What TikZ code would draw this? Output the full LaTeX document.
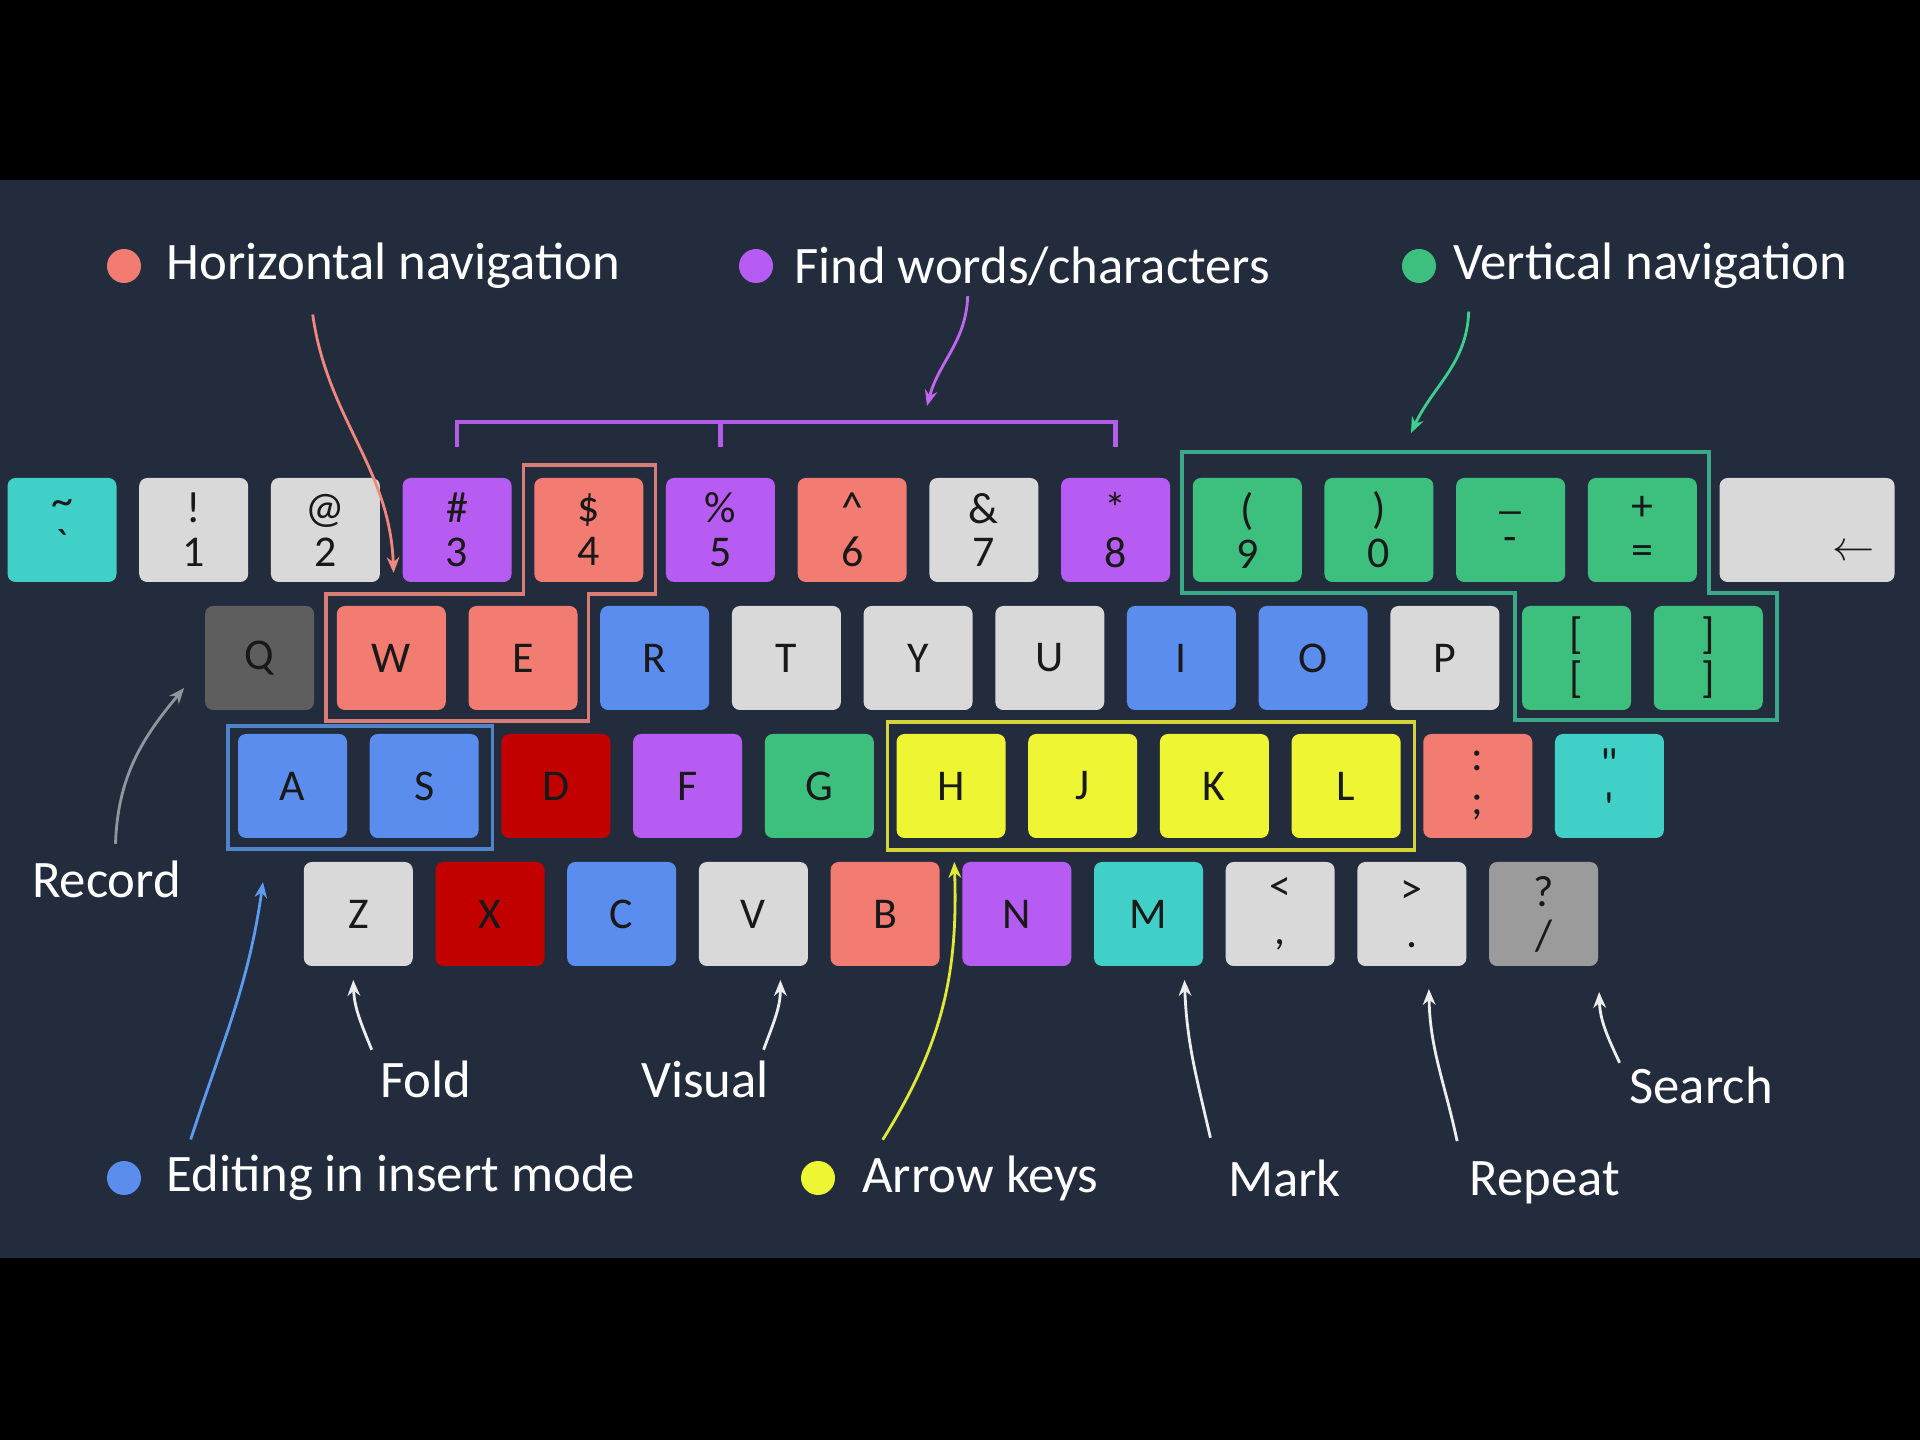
\documentclass[tikz,border=0pt]{standalone}
\usepackage{fontspec}
\setmainfont{Carlito}
\usepackage{tikz}
\usetikzlibrary{arrows.meta, positioning, calc}

\definecolor{panel}{HTML}{232C3C}
\definecolor{kteal}{HTML}{40D0C8}
\definecolor{kgray}{HTML}{D9D9D9}
\definecolor{kpurple}{HTML}{B75CF2}
\definecolor{ksalmon}{HTML}{F27B72}
\definecolor{kgreen}{HTML}{3DC07E}
\definecolor{kdark}{HTML}{5E5E5E}
\definecolor{kblue}{HTML}{5A8DEE}
\definecolor{kred}{HTML}{C20000}
\definecolor{kyellow}{HTML}{EEF532}
\definecolor{kmid}{HTML}{9B9B9B}
\definecolor{hout}{HTML}{D97E76}
\definecolor{fout}{HTML}{B35DE8}
\definecolor{vout}{HTML}{39A987}
\definecolor{eout}{HTML}{4F84C8}
\definecolor{aout}{HTML}{D4D43A}
\definecolor{harr}{HTML}{F0887E}
\definecolor{farr}{HTML}{C066F0}
\definecolor{varr}{HTML}{3ECF8E}
\definecolor{earr}{HTML}{5B9BF0}
\definecolor{aarr}{HTML}{E0E838}
\definecolor{rarr}{HTML}{8E969F}
\definecolor{warr}{HTML}{EDEDED}

\begin{document}
\begin{tikzpicture}[
    x=0.1mm, y=0.1mm,
    node distance=2.27mm,
    key/.style={rectangle, rounded corners=0.8mm, minimum width=10.9mm, minimum height=10.4mm, inner sep=0pt, outer sep=0pt, align=center, text=black!90, font=\fontsize{12.5}{12.5}\selectfont},
    ldot/.style={circle, minimum size=3.4mm, inner sep=0pt},
    legend/.style={text=white, font=\fontsize{15}{18}\selectfont, inner sep=0pt},
    tag/.style={text=white, font=\fontsize{15}{18}\selectfont, inner sep=2pt},
    arrow/.style={line width=0.8pt, ->, >={Stealth[length=4.5pt, width=3.6pt]}},
    outline/.style={line width=1pt},
    bracket/.style={line width=1.2pt, draw=fout}
]
    \useasboundingbox (0,0) rectangle (1920,-1440);
    \fill[black] (0,0) rectangle (1920,-1440);
    \fill[panel] (0,-180) rectangle (1920,-1258);

    % Number row
    \node[key, fill=kteal] (kgrave) at (62,-530) {\textasciitilde\\\textasciigrave};
    \node[key, fill=kgray, right=of kgrave] (k1) {!\\1};
    \node[key, fill=kgray, right=of k1] (k2) {@\\2};
    \node[key, fill=kpurple, right=of k2] (k3) {\#\\3};
    \node[key, fill=ksalmon, right=of k3] (k4) {\$\\4};
    \node[key, fill=kpurple, right=of k4] (k5) {\%\\5};
    \node[key, fill=ksalmon, right=of k5] (k6) {\textasciicircum\\6};
    \node[key, fill=kgray, right=of k6] (k7) {\&\\7};
    \node[key, fill=kpurple, right=of k7] (k8) {*\\8};
    \node[key, fill=kgreen, right=of k8] (k9) {(\\9};
    \node[key, fill=kgreen, right=of k9] (k0) {)\\0};
    \node[key, fill=kgreen, right=of k0] (kminus) {\_\\-};
    \node[key, fill=kgreen, right=of kminus] (kequal) {+\\=};
    \node[key, fill=kgray, minimum width=17.5mm, right=of kequal] (kbs) {};
    \node[text=black!90, font=\fontsize{13}{13}\selectfont] (bsarrow) at ([shift={(46,-23)}]kbs.center) {$\leftarrow$};

    % Top letter row
    \node[key, fill=kdark] (kq) at (259.6,-658) {Q};
    \node[key, fill=ksalmon, right=of kq] (kw) {W};
    \node[key, fill=ksalmon, right=of kw] (ke) {E};
    \node[key, fill=kblue, right=of ke] (kr) {R};
    \node[key, fill=kgray, right=of kr] (kt) {T};
    \node[key, fill=kgray, right=of kt] (ky) {Y};
    \node[key, fill=kgray, right=of ky] (ku) {U};
    \node[key, fill=kblue, right=of ku] (ki) {I};
    \node[key, fill=kblue, right=of ki] (ko) {O};
    \node[key, fill=kgray, right=of ko] (kp) {P};
    \node[key, fill=kgreen, right=of kp] (klbrack) {{[}\\{[}};
    \node[key, fill=kgreen, right=of klbrack] (krbrack) {{]}\\{]}};

    % Home row
    \node[key, fill=kblue] (ka) at (292.5,-786) {A};
    \node[key, fill=kblue, right=of ka] (ks) {S};
    \node[key, fill=kred, right=of ks] (kd) {D};
    \node[key, fill=kpurple, right=of kd] (kf) {F};
    \node[key, fill=kgreen, right=of kf] (kg) {G};
    \node[key, fill=kyellow, right=of kg] (kh) {H};
    \node[key, fill=kyellow, right=of kh] (kj) {J};
    \node[key, fill=kyellow, right=of kj] (kk) {K};
    \node[key, fill=kyellow, right=of kk] (kl) {L};
    \node[key, fill=ksalmon, right=of kl] (ksemi) {:\\;};
    \node[key, fill=kteal, right=of ksemi] (kquote) {\textquotedbl\\\textquotesingle};

    % Bottom row
    \node[key, fill=kgray] (kz) at (358.3,-914) {Z};
    \node[key, fill=kred, right=of kz] (kx) {X};
    \node[key, fill=kblue, right=of kx] (kc) {C};
    \node[key, fill=kgray, right=of kc] (kv) {V};
    \node[key, fill=ksalmon, right=of kv] (kb) {B};
    \node[key, fill=kpurple, right=of kb] (kn) {N};
    \node[key, fill=kteal, right=of kn] (km) {M};
    \node[key, fill=kgray, right=of km] (kcomma) {<\\,};
    \node[key, fill=kgray, right=of kcomma] (kperiod) {>\\.};
    \node[key, fill=kmid, right=of kperiod] (kslash) {?\\/};

    % Group outlines
    \draw[outline, draw=hout] ([shift={(-11,13)}]k4.north west) -| ([shift={(12,-12)}]k4.south east) -| ([shift={(11,-11)}]ke.south east) -| ([shift={(-11,12)}]kw.north west) -| ([shift={(-11,13)}]k4.north west) -- cycle;
    \draw[outline, draw=vout] ([shift={(-11,26)}]k9.north west) -| ([shift={(12,-11)}]kequal.south east) -| ([shift={(14,-10)}]krbrack.south east) -| ([shift={(-7,13)}]klbrack.north west) -| ([shift={(-11,26)}]k9.north west) -- cycle;
    \draw[outline, draw=eout] ([shift={(-10,8)}]ka.north west) rectangle ([shift={(14,-11)}]ks.south east);
    \draw[outline, draw=aout] ([shift={(-9,12)}]kh.north west) rectangle ([shift={(14,-12)}]kl.south east);
    \draw[bracket] ([shift={(0,31)}]k3.north) -- ([shift={(0,56)}]k3.north) -- ([shift={(0,56)}]k8.north) -- ([shift={(0,31)}]k8.north);
    \draw[bracket] ([shift={(0,56)}]k5.north) -- ([shift={(0,31)}]k5.north);

    % Legend
    \node[ldot, fill=ksalmon] (hdot) at (124,-266) {};
    \node[legend, right=2.4mm of hdot] (hnav) {Horizontal navigation};
    \node[ldot, fill=kpurple] (fdot) at (756,-266) {};
    \node[legend, right=2.0mm of fdot] (fnav) {Find words/characters};
    \node[ldot, fill=kgreen] (vdot) at (1419,-266) {};
    \node[legend, right=1.6mm of vdot] (vnav) {Vertical navigation};
    \node[ldot, fill=kblue] (edot) at (124,-1178) {};
    \node[legend, right=2.4mm of edot] (enav) {Editing in insert mode};
    \node[ldot, fill=kyellow] (adot) at (818,-1178) {};
    \node[legend, right=2.6mm of adot] (anav) {Arrow keys};

    % Key labels
    \node[tag] (record) at (106.5,-879) {Record};
    \node[tag] (fold) at (426,-1079) {Fold};
    \node[tag] (visual) at (705,-1079) {Visual};
    \node[tag] (search) at (1701,-1085) {Search};
    \node[tag] (mark) at (1284.5,-1178) {Mark};
    \node[tag] (repeatlbl) at (1545,-1183) {Repeat};

    \coordinate (ftip) at (927,-406);
    \coordinate (vtip) at (1411,-433);

    % Connectors
    \draw[arrow, draw=harr] ([shift={(147,-25)}]hnav.south west) to[out=-82, in=92] ([shift={(-9,9)}]k3.south west);
    \draw[arrow, draw=farr] ([shift={(174,-10)}]fnav.south west) to[out=-92, in=75] (ftip);
    \draw[arrow, draw=varr] ([shift={(16,-22)}]vnav.south west) to[out=-92, in=65] (vtip);
    \draw[arrow, draw=rarr] ([shift={(9,9)}]record.north) to[out=88, in=-130] ([shift={(-21,22)}]kq.south west);
    \draw[arrow, draw=earr] ([shift={(25,15)}]enav.north west) to[out=72, in=-98] ([shift={(25,-44)}]ka.south west);
    \draw[arrow, draw=warr] ([shift={(-1,3)}]fold.north west) to[out=112, in=-88] ([shift={(-5,-14)}]kz.south);
    \draw[arrow, draw=warr] ([shift={(-13,3)}]visual.north east) to[out=70, in=-90] ([shift={(27,-14)}]kv.south);
    \draw[arrow, draw=aarr] ([shift={(21,15)}]anav.north west) to[out=58, in=-88] ([shift={(-8,0)}]kn.north west);
    \draw[arrow, draw=warr] ([shift={(-10,14)}]mark.north west) to[out=103, in=-88] ([shift={(36,-14)}]km.south);
    \draw[arrow, draw=warr] ([shift={(-5,13)}]repeatlbl.north west) to[out=102, in=-89] ([shift={(17,-23)}]kperiod.south);
    \draw[arrow, draw=warr] ([shift={(-2,-4)}]search.north west) to[out=115, in=-88] ([shift={(1,-26)}]kslash.south east);
\end{tikzpicture}
\end{document}
